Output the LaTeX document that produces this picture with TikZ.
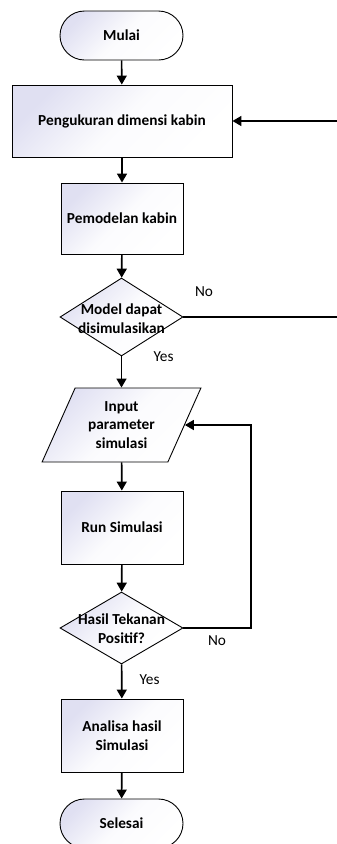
\documentclass[tikz,border=0pt]{standalone}
\usepackage{fontspec}
\setmainfont{Carlito}
\usetikzlibrary{shapes.misc,shapes.geometric,arrows.meta}
\definecolor{lav}{HTML}{E0E0F2}
\newcommand{\flowfont}{\fontsize{15.3}{18.7}\selectfont}
\tikzset{
  shadefill/.style={top color=lav, bottom color=white, middle color=white!88!lav, shading angle=45},
  procbox/.style={draw=black, line width=0.9pt, shadefill, minimum width=122pt, minimum height=72pt, inner sep=0pt, align=center, font=\flowfont\bfseries},
  termbox/.style={draw=black, line width=0.9pt, shadefill, rounded rectangle, minimum width=123pt, minimum height=49pt, inner sep=0pt, align=center, font=\flowfont\bfseries},
  decbox/.style={draw=black, line width=0.9pt, shadefill, diamond, minimum width=123pt, minimum height=78pt, inner sep=0pt},
  iobox/.style={draw=black, line width=0.9pt, shadefill, trapezium, trapezium left angle=63.4, trapezium right angle=116.6, trapezium stretches=true, minimum width=159pt, minimum height=74pt, inner sep=0pt, align=center, font=\flowfont\bfseries},
  dectext/.style={align=center, font=\flowfont\bfseries, inner sep=0pt},
  lbl/.style={inner sep=0pt, font=\flowfont},
  flow/.style={line width=1.6pt, -{Triangle[length=9pt,width=10pt]}},
  plain/.style={line width=1.6pt}
}
\begin{document}
\begin{tikzpicture}[x=1pt,y=-1pt]
\useasboundingbox (0,0) rectangle (337,844);
\clip (0,0) rectangle (337,844);
\node[termbox] (start) at (121.5,35.5) {Mulai};
\node[procbox, minimum width=220pt, minimum height=72pt] (ukur) at (122,121) {Pengukuran dimensi kabin};
\node[procbox, minimum height=71pt] (model) at (122,218.5) {Pemodelan kabin};
\node[decbox] (d1) at (121.5,317) {};
\node[dectext] at (121.5,318.5) {Model dapat\\disimulasikan};
\node[iobox] (inp) at (121.5,425) {Input\\parameter\\simulasi};
\node[procbox, minimum height=73pt] (run) at (122,527.5) {Run Simulasi};
\node[decbox, minimum height=72pt] (d2) at (121.5,628) {};
\node[dectext] at (121.5,628.5) {Hasil Tekanan\\Positif?};
\node[procbox, minimum height=73pt] (ana) at (122,735.5) {Analisa hasil\\Simulasi};
\node[termbox] (stop) at (121.5,823.5) {Selesai};

\coordinate (inR) at (337,121);
\coordinate (noR) at (337,317);
\coordinate (loop) at (251,628);

\draw[flow] (start) -- (ukur);
\draw[flow] (ukur) -- (model);
\draw[flow] (model) -- (d1);
\draw[flow] (d1) -- (inp);
\draw[flow] (inp) -- (run);
\draw[flow] (run) -- (d2);
\draw[flow] (d2) -- (ana);
\draw[flow] (ana) -- (stop);
\draw[flow] (inR) -- (ukur.east);
\draw[plain] (d1.east) -- (noR);
\draw[flow] (d2.east) -- (loop) |- (inp.east);

\node[lbl] (no1) at (204,291.5) {No};
\node[lbl] (yes1) at (163.5,357) {Yes};
\node[lbl] (no2) at (217,641) {No};
\node[lbl] (yes2) at (149.5,680) {Yes};
\end{tikzpicture}
\end{document}
